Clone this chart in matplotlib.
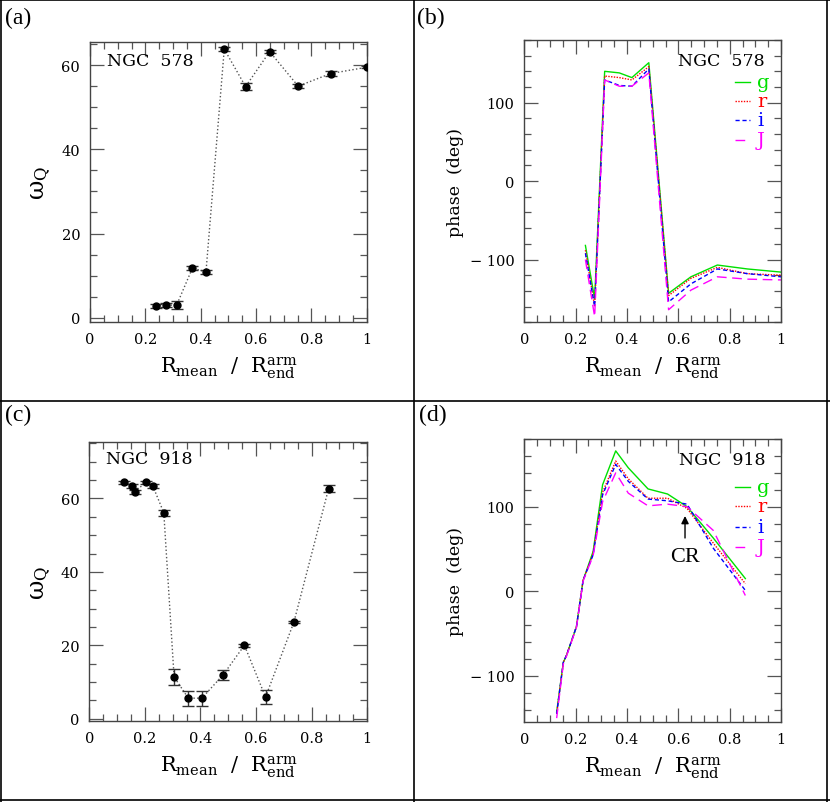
import matplotlib
matplotlib.use("Agg")
import matplotlib.pyplot as plt
from matplotlib.ticker import MultipleLocator, FuncFormatter
from matplotlib.lines import Line2D

plt.rcParams["font.family"] = ["DejaVu Serif"]
plt.rcParams["mathtext.fontset"] = "dejavuserif"

# NGC 578
r578 = [0.238, 0.274, 0.313, 0.370, 0.419, 0.485, 0.562, 0.649, 0.752, 0.869, 1.0]
w578 = [2.8, 3.0, 3.0, 11.8, 10.9, 63.8, 54.9, 63.2, 55.0, 58.0, 59.5]
e578 = [0.5, 0.4, 1.0, 0.4, 0.5, 0.4, 0.8, 0.4, 0.4, 0.7, 0.3]
g578 = [-82, -150, 140, 138, 132, 151, -143, -122, -107, -112, -116]
r578p = [-88, -160, 134, 132, 129, 146, -146, -124, -110, -118, -120]
i578 = [-92, -160, 129, 122, 121, 143, -154, -131, -112, -118, -122]
j578 = [-100, -173, 129, 121, 121, 138, -164, -139, -122, -125, -126]

# NGC 918
r918 = [0.126, 0.152, 0.164, 0.203, 0.229, 0.268, 0.305, 0.356, 0.405, 0.482, 0.558, 0.634, 0.736, 0.861]
w918 = [64.4, 63.4, 61.8, 64.4, 63.3, 56.1, 11.4, 5.6, 5.6, 12.0, 20.0, 5.9, 26.3, 62.7]
e918 = [0.4, 0.5, 0.5, 0.4, 0.5, 0.8, 2.2, 2.0, 2.0, 1.4, 0.4, 2.0, 0.3, 0.9]
g918 = [-143, -84, -76, -42, 13, 47, 126, 166, 146, 121, 115, 100, 63, 15]
r918p = [-145, -84, -76, -42, 13, 45, 117, 154, 133, 110, 110, 98, 57, 9]
i918 = [-145, -84, -76, -42, 13, 43, 114, 150, 130, 109, 107, 103, 51, 1]
j918 = [-150, -86, -77, -43, 12, 42, 106, 140, 116, 101, 103, 100, 72, -5]

bands = ["g", "r", "i", "J"]
colors = ["#00e000", "red", "blue", "magenta"]
styles = ["-", (0, (1, 1)), (0, (3, 2)), (0, (7, 4))]

fig = plt.figure(figsize=(8.3, 8.03), dpi=100)

ax_a = fig.add_axes([0.1084, 0.5978, 0.3336, 0.3487])
ax_b = fig.add_axes([0.6317, 0.5974, 0.3093, 0.3516])
ax_c = fig.add_axes([0.1076, 0.1005, 0.3349, 0.3475])
ax_d = fig.add_axes([0.6317, 0.0992, 0.3093, 0.3528])

xlabel = r"$\mathrm{R_{mean}\ \ /\ \ R_{end}^{arm}}$"
wlabel = r"$\mathrm{\omega_Q}$"


def fmt(v, p):
    s = "%g" % round(v, 2)
    return s.replace("-", "\u2212 ")


def style_axes(ax, ymaj, ymin):
    ax.set_xlim(0, 1)
    ax.xaxis.set_major_locator(MultipleLocator(0.2))
    ax.xaxis.set_minor_locator(MultipleLocator(0.05))
    ax.yaxis.set_major_locator(MultipleLocator(ymaj))
    ax.yaxis.set_minor_locator(MultipleLocator(ymin))
    ax.xaxis.set_major_formatter(FuncFormatter(fmt))
    ax.yaxis.set_major_formatter(FuncFormatter(fmt))
    ax.tick_params(which="both", direction="in", top=True, right=True,
                   color="#555555", width=0.9, labelsize=10.5, pad=7)
    ax.tick_params(which="major", length=10)
    ax.tick_params(which="minor", length=5)
    for s in ax.spines.values():
        s.set_color("#444444")
        s.set_linewidth(1.0)
    ax.set_xlabel(xlabel, fontsize=15, labelpad=6)


# (a)
ax_a.errorbar(r578, w578, yerr=e578, fmt="o", color="black", ms=5,
              ecolor="#333333", elinewidth=1, capsize=4.5, capthick=1, zorder=3)
ax_a.plot(r578, w578, ls=":", color="#555555", lw=1)
ax_a.set_ylim(-1, 65.5)
style_axes(ax_a, 20, 5)
ax_a.set_ylabel(wlabel, fontsize=17, labelpad=6)
ax_a.text(0.061, 0.935, "NGC  578", transform=ax_a.transAxes, fontsize=12.5, va="center")

# (c)
ax_c.errorbar(r918, w918, yerr=e918, fmt="o", color="black", ms=5,
              ecolor="#333333", elinewidth=1, capsize=4.5, capthick=1, zorder=3)
ax_c.plot(r918, w918, ls=":", color="#555555", lw=1)
ax_c.set_ylim(-0.7, 75.3)
style_axes(ax_c, 20, 5)
ax_c.set_ylabel(wlabel, fontsize=17, labelpad=6)
ax_c.text(0.061, 0.94, "NGC  918", transform=ax_c.transAxes, fontsize=12.5, va="center")

# (b)
for vals, c, ls in zip([g578, r578p, i578, j578], colors, styles):
    ax_b.plot(r578, vals, color=c, ls=ls, lw=1)
ax_b.set_ylim(-180, 180)
style_axes(ax_b, 100, 20)
ax_b.set_ylabel("phase  (deg)", fontsize=12.5, labelpad=4)
ax_b.text(0.938, 0.926, "NGC  578", transform=ax_b.transAxes, fontsize=12.5,
          va="center", ha="right")

# (d)
for vals, c, ls in zip([g918, r918p, i918, j918], colors, styles):
    ax_d.plot(r918, vals, color=c, ls=ls, lw=1)
ax_d.set_ylim(-155, 180)
style_axes(ax_d, 100, 20)
ax_d.set_ylabel("phase  (deg)", fontsize=12.5, labelpad=4)
ax_d.text(0.938, 0.929, "NGC  918", transform=ax_d.transAxes, fontsize=12.5,
          va="center", ha="right")
ax_d.annotate("", xy=(0.626, 89), xytext=(0.626, 63),
              arrowprops=dict(arrowstyle="-|>", color="black", lw=1,
                              shrinkA=0, shrinkB=0, mutation_scale=11))
ax_d.text(0.626, 41, "CR", fontsize=16, ha="center", va="center",
          family="Liberation Serif")

# hand-drawn legends
for ax, rows in [(ax_b, [0.85, 0.785, 0.715, 0.645]), (ax_d, [0.831, 0.763, 0.689, 0.618])]:
    for b, c, ls, yy in zip(bands, colors, styles, rows):
        ax.plot([0.82, 0.879], [yy, yy], transform=ax.transAxes, color=c, ls=ls, lw=1)
        ax.text(0.906, yy, b, transform=ax.transAxes, color=c, fontsize=14, va="center")

# panel frames
for xy in [((0.0012, 0.0012), (0, 1)), ((0.9965, 0.9965), (0, 1)),
           ((0, 1), (0.0025, 0.0025)), ((0, 1), (0.999, 0.999)),
           ((0.4988, 0.4988), (0, 1)), ((0, 1), (0.4994, 0.4994))]:
    fig.add_artist(Line2D(xy[0], xy[1], color="black", lw=1.2))

for lab, x, y in [("(a)", 0.006, 0.977), ("(b)", 0.503, 0.977),
                  ("(c)", 0.006, 0.483), ("(d)", 0.505, 0.483)]:
    fig.text(x, y, lab, fontsize=17, va="center", family="Liberation Serif")

fig.savefig("out.png", dpi=100)
